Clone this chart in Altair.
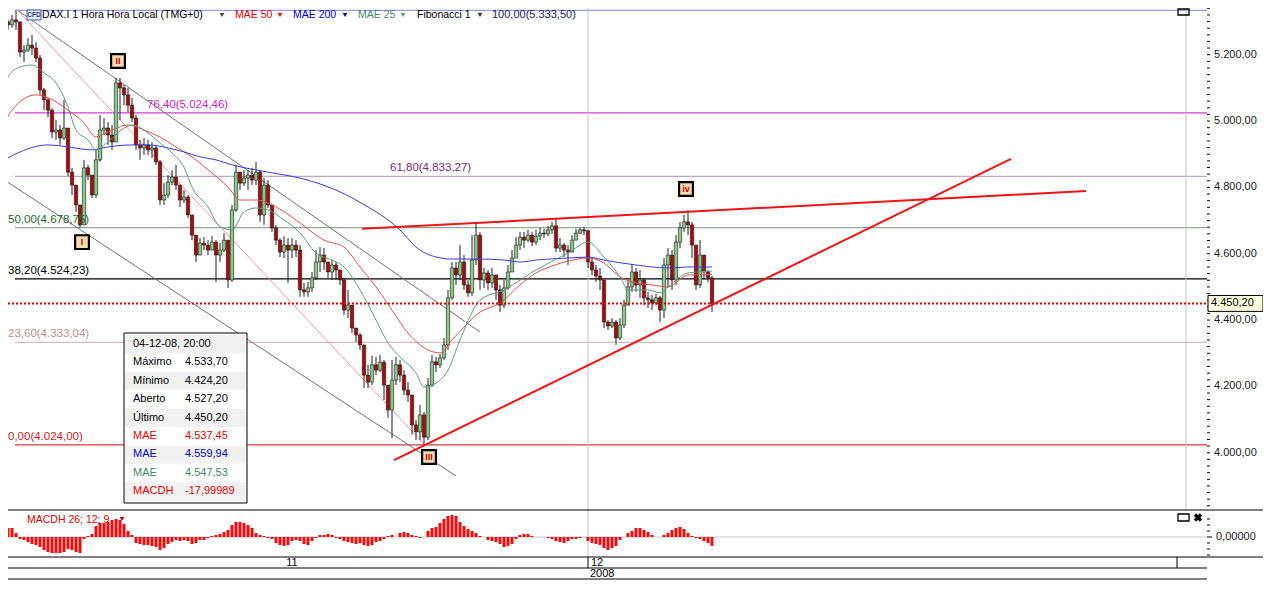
import altair as alt
import pandas as pd

# ---------------- data ----------------
FIRST_OPEN = 5124
CLOSE = [
    5259, 5299, 5290, 5305, 5299, 5208, 5214, 5229, 5220, 5190,
    5094, 5064, 5033, 4967, 4973, 4949, 4979, 4846, 4807, 4747,
    4687, 4859, 4837, 4777, 4883, 4973, 4979, 4958, 4937, 5115,
    5100, 5079, 5048, 5009, 4928, 4919, 4928, 4913, 4919, 4877,
    4762, 4777, 4816, 4831, 4807, 4762, 4771, 4717, 4656, 4596,
    4632, 4626, 4611, 4635, 4596, 4611, 4641, 4521, 4732, 4846,
    4813, 4828, 4837, 4822, 4846, 4717, 4807, 4747, 4678, 4641,
    4605, 4626, 4611, 4626, 4611, 4491, 4485, 4497, 4527, 4575,
    4596, 4575, 4545, 4566, 4551, 4521, 4430, 4445, 4376, 4355,
    4325, 4234, 4213, 4265, 4249, 4273, 4204, 4129, 4219, 4265,
    4234, 4189, 4174, 4084, 4063, 4114, 4047, 4204, 4274, 4265,
    4286, 4325, 4467, 4557, 4536, 4575, 4506, 4482, 4581, 4656,
    4521, 4542, 4512, 4536, 4491, 4445, 4497, 4545, 4587, 4626,
    4650, 4641, 4656, 4635, 4653, 4662, 4660, 4672, 4684, 4617,
    4626, 4611, 4605, 4641, 4662, 4672, 4669, 4575, 4551, 4533,
    4521, 4394, 4382, 4394, 4346, 4385, 4445, 4500, 4545, 4506,
    4521, 4467, 4461, 4452, 4467, 4430, 4566, 4596, 4521, 4635,
    4678, 4696, 4687, 4626, 4506, 4596, 4545, 4527.2, 4450.2,
]
HIGH = [
    5281, 5311, 5305, 5320, 5333.5, 5299, 5229, 5250, 5260, 5238,
    5199, 5100, 5070, 5039, 5003, 4988, 5064, 4979, 4859, 4807,
    4747, 4883, 4868, 4837, 4913, 5018, 5009, 4997, 4988, 5130,
    5130, 5109, 5100, 5070, 5018, 4943, 4949, 4943, 4937, 4928,
    4883, 4813, 4837, 4852, 4868, 4807, 4792, 4777, 4717, 4656,
    4647, 4650, 4641, 4653, 4641, 4632, 4662, 4641, 4747, 4868,
    4846, 4852, 4852, 4859, 4877, 4852, 4828, 4822, 4747, 4687,
    4647, 4653, 4647, 4647, 4641, 4626, 4512, 4515, 4545, 4611,
    4620, 4617, 4575, 4581, 4575, 4551, 4527, 4491, 4445, 4376,
    4361, 4325, 4265, 4292, 4289, 4295, 4280, 4204, 4280, 4289,
    4280, 4249, 4213, 4174, 4099, 4144, 4123, 4225, 4295, 4289,
    4298, 4346, 4491, 4575, 4575, 4626, 4596, 4521, 4656, 4696,
    4665, 4557, 4551, 4557, 4536, 4506, 4521, 4566, 4611, 4650,
    4666, 4666, 4672, 4666, 4672, 4678, 4675, 4684, 4696, 4708,
    4647, 4632, 4626, 4656, 4675, 4678, 4681, 4672, 4587, 4566,
    4557, 4521, 4400, 4406, 4400, 4406, 4461, 4521, 4569, 4557,
    4551, 4527, 4485, 4476, 4479, 4473, 4587, 4617, 4611, 4656,
    4696, 4717, 4732, 4696, 4626, 4641, 4575, 4551, 4533.7,
]
LOW = [
    5109, 5260, 5275, 5281, 5275, 5193, 5178, 5208, 5199, 5178,
    5079, 5033, 5012, 4949, 4943, 4928, 4943, 4834, 4777, 4726,
    4679, 4837, 4822, 4768, 4768, 4877, 4958, 4928, 4913, 5073,
    5003, 5048, 5027, 4997, 4913, 4883, 4898, 4898, 4889, 4868,
    4747, 4747, 4768, 4807, 4792, 4741, 4753, 4708, 4641, 4575,
    4596, 4611, 4596, 4611, 4515, 4575, 4605, 4497, 4515, 4726,
    4792, 4804, 4792, 4807, 4807, 4696, 4687, 4738, 4666, 4626,
    4590, 4587, 4512, 4587, 4590, 4470, 4470, 4470, 4485, 4521,
    4545, 4551, 4527, 4521, 4521, 4506, 4415, 4406, 4361, 4334,
    4310, 4195, 4195, 4204, 4234, 4243, 4159, 4105, 4044, 4204,
    4213, 4174, 4153, 4054, 4038, 4038, 4024, 4038, 4198, 4243,
    4256, 4280, 4310, 4461, 4506, 4521, 4491, 4470, 4473, 4566,
    4491, 4497, 4491, 4497, 4461, 4424, 4436, 4491, 4545, 4587,
    4611, 4617, 4635, 4623, 4626, 4641, 4647, 4653, 4660, 4605,
    4605, 4590, 4566, 4611, 4641, 4660, 4656, 4557, 4536, 4515,
    4491, 4376, 4370, 4376, 4325, 4340, 4376, 4445, 4485, 4485,
    4467, 4445, 4436, 4430, 4445, 4394, 4406, 4497, 4491, 4506,
    4617, 4666, 4656, 4587, 4491, 4497, 4521, 4515, 4424.2,
]
MACDH = [
    4, 14, 18, 18, 8, -4, -6, -10, -14, -16,
    -20, -26, -30, -32, -32, -32, -30, -24, -26, -30,
    -32, -4, 2, 6, 22, 28, 28, 30, 34, 36,
    34, 26, 12, 4, -12, -14, -16, -16, -18, -20,
    -26, -22, -14, -10, -6, -8, -6, -8, -14, -12,
    -6, -6, -2, 2, 4, 6, 10, 14, 24, 30,
    30, 28, 24, 18, 8, 4, 2, -2, -4, -12,
    -16, -18, -16, -8, -6, -8, -14, -16, -8, -2,
    4, 4, 6, 4, -2, -4, -8, -10, -12, -14,
    -12, -16, -18, -16, -10, -8, -4, 2, 4, 0,
    8, 10, 8, 4, 2, -2, 0, 12, 18, 20,
    28, 36, 42, 44, 42, 30, 22, 16, 12, 8,
    2, 0, -6, -8, -10, -14, -20, -18, -14, -4,
    4, 6, 6, 2, 0, 0, 0, -2, -4, -8,
    -10, -12, -8, -4, -4, -2, 0, -8, -12, -14,
    -16, -22, -26, -22, -18, -6, 0, 8, 12, 18,
    18, 14, 10, 4, 0, 0, 4, 8, 14, 18,
    20, 16, 8, 2, -2, -4, -8, -12, -18,
]

MA50_X = [0, 3, 9, 12, 17, 21, 24, 27, 32, 36, 40, 44, 48, 52, 57, 60, 64, 69, 75, 81,
          86, 90, 94, 98, 102, 107, 110, 113, 117, 120, 125, 130, 134, 138, 142, 147,
          151, 155, 159, 163, 167, 172, 178]
MA50 = [4964, 5033, 5079, 5070, 5033, 4994, 4952, 4967, 4988, 4973, 4952, 4922, 4892,
        4853, 4801, 4762, 4762, 4741, 4693, 4641, 4620, 4560, 4500, 4430, 4361, 4310,
        4301, 4340, 4391, 4424, 4451, 4506, 4542, 4563, 4578, 4587, 4572, 4530, 4512,
        4506, 4500, 4536, 4537.45]
MA200_X = [0, 5, 12, 17, 23, 27, 33, 37, 42, 46, 50, 54, 58, 67, 75, 84, 92, 96, 100,
           104, 109, 113, 120, 126, 130, 134, 142, 147, 151, 159, 167, 172, 178]
MA200 = [4874, 4907, 4928, 4922, 4913, 4922, 4928, 4928, 4919, 4907, 4892, 4883, 4868,
         4846, 4828, 4792, 4741, 4711, 4672, 4620, 4590, 4584, 4584, 4581, 4575, 4581,
         4587, 4590, 4581, 4566, 4557, 4560, 4559.94]
MA25_X = [0, 2, 5, 8, 11, 14, 17, 19, 22, 24, 27, 31, 33, 37, 40, 43, 46, 48, 52, 55,
          58, 61, 64, 67, 71, 75, 79, 83, 86, 90, 94, 97, 100, 104, 106, 109, 112, 115,
          120, 126, 134, 142, 147, 151, 155, 157, 162, 165, 167, 172, 178]
MA25 = [5073, 5133, 5163, 5169, 5145, 5115, 5042, 4973, 4943, 4913, 4937, 4979, 4988,
        4964, 4934, 4904, 4861, 4801, 4741, 4681, 4672, 4726, 4738, 4732, 4702, 4663,
        4602, 4581, 4560, 4491, 4400, 4331, 4289, 4240, 4198, 4210, 4249, 4340, 4460,
        4491, 4551, 4602, 4635, 4590, 4530, 4491, 4491, 4482, 4500, 4542, 4547.53]

FIB_TEXT = ["100,00(5.333,50)", "76,40(5.024,46)", "61,80(4.833,27)", "50,00(4.678,75)",
            "38,20(4.524,23)", "23,60(4.333,04)", "0,00(4.024,00)"]
FIB_VALUE = [5333.50, 5024.46, 4833.27, 4678.75, 4524.23, 4333.04, 4024.00]
FIB_LABEL_AT = [123, 36.75, 97.5, 2, 2, 2, 2]
FIB_LABEL_BELOW = [True, False, False, False, False, False, False]
FIB_LINE_COLOR = ["#9c9cff", "#d23cd2", "#bfa6c6", "#93a793", "#000000", "#d9bcbc", "#d43a3a"]
FIB_TEXT_COLOR = ["#20205a", "#c81ec8", "#7a2a7a", "#1f6a1f", "#000000", "#c08c8c", "#c81e1e"]
FIB_FROM = 3.75

LAST_PRICE = 4450.20
LAST_PRICE_TEXT = "4.450,20"
PRICE_TICKS = [4000, 4200, 4400, 4600, 4800, 5000, 5200]

CHANNEL_UP = ([4.25, 120], [5335, 4364])
CHANNEL_DOWN = ([0, 114], [4831, 3930])
THIN_RED = ([4.25, 106.25], [5335, 4023])
TREND_TOP = ([90.5, 271.5], [4675, 4789])
TREND_BOTTOM = ([98.5, 252.75], [3978, 4886])

WAVE_TEXT = ["I", "II", "III", "iv"]
WAVE_AT = [20.5, 29.5, 107.25, 171.5]
WAVE_PRICE = [4635, 5181, 3987, 4795]

MONTH_TEXT = ["11", "12"]
MONTH_AT = [73, 147.75]
YEAR_TEXT = ["2008"]
YEAR_AT = [147.5]
MONTH_LINE = [147]
FAR_LINE = [296.5]

INFO_LABELS = ["04-12-08, 20:00", "Máximo", "Mínimo", "Aberto", "Último",
               "MAE", "MAE", "MAE", "MACDH"]
INFO_VALUES = ["", "4.533,70", "4.424,20", "4.527,20", "4.450,20",
               "4.537,45", "4.559,94", "4.547,53", "-17,99989"]
INFO_COLORS = ["#000000", "#000000", "#000000", "#000000", "#000000",
               "#e00000", "#0000d0", "#3f8a68", "#e00000"]

LEGEND_TEXT = ["DAX.I 1 Hora Hora Local (TMG+0)", "MAE 50", "MAE 200", "MAE 25", "Fibonacci 1"]
LEGEND_COLOR = ["#000000", "#e00000", "#0000c8", "#3f8a68", "#000000"]
LEGEND_ARROW_COLOR = ["#404040", "#e00000", "#0000c8", "#5a9a7a", "#303030"]
MACD_TITLE = "MACDH 26; 12; 9"
MACD_ZERO_TEXT = "0,00000"

# ---------------- layout ----------------
W, H = 1199, 570
P_TOP, P_BOT = 5340.88, 3622.33
FONT = "Liberation Sans"
XS = alt.Scale(domain=[2, 301.75], nice=False, zero=False)
YS = alt.Scale(domain=[P_BOT, P_TOP], nice=False, zero=False)
MS = alt.Scale(domain=[-82, 1058], nice=False, zero=False)
ONE = pd.DataFrame({"d": [0]})

UP_FILL = "#86c986"
DOWN_FILL = "#a80a0a"
LABEL_EXPR = ("replace(replace(replace(format(datum.v, ',.2f'), ',', '_'), '.', ','), '_', '.')")


def X(f):
    return alt.X(f, scale=XS, axis=None)


def Y(f):
    return alt.Y(f, scale=YS, axis=None)


def seg(pts, color, width):
    df = pd.DataFrame({"i": pts[0], "v": pts[1]})
    return alt.Chart(df).mark_line(color=color, strokeWidth=width, clip=True).encode(
        x=X("i:Q"), y=Y("v:Q"))


def hline(y, x0, x1, color, width=1):
    return alt.Chart(ONE).mark_rule(color=color, strokeWidth=width).encode(
        x=alt.value(x0), x2=alt.value(x1), y=alt.value(y))


def vline(x, y0, y1, color, width=1):
    return alt.Chart(ONE).mark_rule(color=color, strokeWidth=width).encode(
        x=alt.value(x), y=alt.value(y0), y2=alt.value(y1))


def ptext(x, y, s, color="#000000", size=11, align="left", weight="normal"):
    return alt.Chart(ONE).mark_text(text=s, color=color, fontSize=size, align=align,
                                    baseline="middle", font=FONT, fontWeight=weight).encode(
        x=alt.value(x), y=alt.value(y))


# ---------------- main price panel ----------------
n = len(CLOSE)
opens = [FIRST_OPEN] + CLOSE[:-1]
cd = pd.DataFrame({"i": list(range(n)), "o": opens, "h": HIGH, "l": LOW, "c": CLOSE})
cd["h"] = cd[["h", "o", "c"]].max(axis=1)
cd["l"] = cd[["l", "o", "c"]].min(axis=1)
cd["up"] = cd["c"] >= cd["o"]

fib = pd.DataFrame({"v": FIB_VALUE, "x0": FIB_FROM, "lc": FIB_LINE_COLOR,
                    "tc": FIB_TEXT_COLOR, "t": FIB_TEXT, "at": FIB_LABEL_AT,
                    "below": FIB_LABEL_BELOW})

price_axis = alt.Axis(orient="right", values=PRICE_TICKS, labels=False, grid=True,
                      gridColor="#d3d3d3", tickSize=5, tickColor="#000000",
                      domainColor="#000000", title=None)

fib_lines = alt.Chart(fib).mark_rule(strokeWidth=1.2, clip=True).encode(
    x=X("x0:Q"), x2=alt.value(W),
    y=alt.Y("v:Q", scale=YS, axis=price_axis),
    color=alt.Color("lc:N", scale=None))

ticks_df = pd.DataFrame({"v": PRICE_TICKS})
price_labels = alt.Chart(ticks_df).transform_calculate(lab=LABEL_EXPR).mark_text(
    align="left", baseline="middle", fontSize=11, font=FONT, color="#202020").encode(
    x=alt.value(W + 7), y=Y("v:Q"), text="lab:N")

minor = pd.DataFrame({"v": list(range(3840, 5341, 20))})
minor_ticks = alt.Chart(minor).mark_rule(color="#000000").encode(
    x=alt.value(W), x2=alt.value(W + 3), y=Y("v:Q"))

month_grid = alt.Chart(pd.DataFrame({"i": MONTH_LINE})).mark_rule(color="#c4c4c4").encode(
    x=X("i:Q"), y=alt.value(0), y2=alt.value(549))
month_sep = alt.Chart(pd.DataFrame({"i": MONTH_LINE})).mark_rule(color="#000000").encode(
    x=X("i:Q"), y=alt.value(549), y2=alt.value(560))
far_grid = alt.Chart(pd.DataFrame({"i": FAR_LINE})).mark_rule(color="#c4c4c4").encode(
    x=X("i:Q"), y=alt.value(0), y2=alt.value(502))

wick = alt.Chart(cd).mark_rule(color="#1e1e1e", strokeWidth=1, clip=True).encode(
    x=X("i:Q"), y=Y("l:Q"), y2="h:Q")
body = alt.Chart(cd).transform_calculate(
    x0="datum.i - 0.42", x1="datum.i + 0.42").mark_rect(
    stroke="#1a1a1a", strokeWidth=0.6, clip=True).encode(
    x=X("x0:Q"), x2="x1:Q", y=Y("o:Q"), y2="c:Q",
    fill=alt.condition("datum.up", alt.value(UP_FILL), alt.value(DOWN_FILL)))


def ma(xs, vs, color):
    df = pd.DataFrame({"i": xs, "v": vs})
    return alt.Chart(df).mark_line(color=color, strokeWidth=1, clip=True,
                                   interpolate="monotone").encode(x=X("i:Q"), y=Y("v:Q"))


last_line = alt.Chart(pd.DataFrame({"v": [LAST_PRICE]})).mark_rule(
    color="#e00000", strokeWidth=2, strokeDash=[2, 2]).encode(
    x=alt.value(0), x2=alt.value(W), y=Y("v:Q"))

fib_labels_above = alt.Chart(fib).transform_filter("!datum.below").mark_text(
    align="left", baseline="middle", dy=-8, fontSize=11.5, font=FONT).encode(
    x=X("at:Q"), y=Y("v:Q"), text="t:N", color=alt.Color("tc:N", scale=None))
fib_labels_below = alt.Chart(fib).transform_filter("datum.below").mark_text(
    align="left", baseline="middle", dy=5, fontSize=11, font=FONT).encode(
    x=X("at:Q"), y=Y("v:Q"), text="t:N", color=alt.Color("tc:N", scale=None))

waves = pd.DataFrame({"i": WAVE_AT, "v": WAVE_PRICE, "t": WAVE_TEXT})
wave_box = alt.Chart(waves).mark_point(shape="square", size=190, filled=True,
                                       fill="#ffd9b0", stroke="#000000", strokeWidth=2.2,
                                       opacity=1).encode(x=X("i:Q"), y=Y("v:Q"))
wave_txt = alt.Chart(waves).mark_text(color="#c80000", fontSize=9, fontWeight="bold",
                                      font=FONT, baseline="middle").encode(
    x=X("i:Q"), y=Y("v:Q"), text="t:N")

tag_df = pd.DataFrame({"v": [LAST_PRICE], "t": [LAST_PRICE_TEXT]})
tag_box = alt.Chart(tag_df).transform_calculate(
    a="datum.v + 24", b="datum.v - 24").mark_rect(
    fill="#ffffe1", stroke="#000000", strokeWidth=1).encode(
    x=alt.value(W + 1), x2=alt.value(W + 56), y=Y("a:Q"), y2="b:Q")
tag_txt = alt.Chart(tag_df).mark_text(align="left", baseline="middle", fontSize=11,
                                      font=FONT, color="#000000").encode(
    x=alt.value(W + 4), y=Y("v:Q"), text="t:N")

months = alt.Chart(pd.DataFrame({"i": MONTH_AT, "t": MONTH_TEXT, "a": ["c", "l"]}))
month_c = months.transform_filter("datum.a == 'c'").mark_text(
    align="center", baseline="middle", fontSize=11, font=FONT).encode(
    x=X("i:Q"), y=alt.value(555), text="t:N")
month_l = months.transform_filter("datum.a == 'l'").mark_text(
    align="left", baseline="middle", fontSize=11, font=FONT).encode(
    x=X("i:Q"), y=alt.value(555), text="t:N")
year_t = alt.Chart(pd.DataFrame({"i": YEAR_AT, "t": YEAR_TEXT})).mark_text(
    align="left", baseline="middle", fontSize=11, font=FONT).encode(
    x=X("i:Q"), y=alt.value(566), text="t:N")

main = alt.layer(
    fib_lines, price_labels, minor_ticks, month_grid, month_sep, far_grid,
    seg(CHANNEL_UP, "#707070", 1), seg(CHANNEL_DOWN, "#707070", 1),
    seg(THIN_RED, "#f19a9a", 1),
    wick, body,
    ma(MA50_X, MA50, "#e45050"), ma(MA200_X, MA200, "#3c3cdc"), ma(MA25_X, MA25, "#5d9c7c"),
    seg(TREND_TOP, "#f01414", 2), seg(TREND_BOTTOM, "#f01414", 2),
    last_line, fib_labels_above, fib_labels_below, wave_box, wave_txt,
    tag_box, tag_txt, month_c, month_l, year_t,
)

# ---------------- MACD panel ----------------
md = pd.DataFrame({"i": list(range(n)), "m": MACDH})
macd_zero = alt.Chart(pd.DataFrame({"m": [0]})).mark_rule(color="#c8c8c8").encode(
    x=alt.value(0), x2=alt.value(W), y=alt.Y("m:Q", scale=MS, axis=None))
macd_bars = alt.Chart(md).transform_calculate(
    x0="datum.i - 0.38", x1="datum.i + 0.38", z="0").mark_rect(
    color="#ee0c0c", clip=True).encode(
    x=X("x0:Q"), x2="x1:Q", y=alt.Y("m:Q", scale=MS, axis=None), y2="z:Q")
mt = pd.DataFrame({"m": [-36, -24, -12, 12, 24, 36]})
macd_minor = alt.Chart(mt).mark_rule(color="#000000").encode(
    x=alt.value(W), x2=alt.value(W + 3), y=alt.Y("m:Q", scale=MS, axis=None))
mz = pd.DataFrame({"m": [0], "t": [MACD_ZERO_TEXT]})
macd_major = alt.Chart(mz).mark_rule(color="#000000").encode(
    x=alt.value(W), x2=alt.value(W + 5), y=alt.Y("m:Q", scale=MS, axis=None))
macd_lab = alt.Chart(mz).mark_text(align="left", baseline="middle", fontSize=11,
                                   font=FONT, color="#202020").encode(
    x=alt.value(W + 9), y=alt.Y("m:Q", scale=MS, axis=None), text="t:N")
macd_grp = alt.layer(macd_zero, macd_bars, macd_minor, macd_major, macd_lab)

# ---------------- pixel-placed furniture ----------------
info = pd.DataFrame({"k": list(range(9)), "lab": INFO_LABELS, "val": INFO_VALUES,
                     "col": INFO_COLORS})
info_bg = alt.Chart(ONE).mark_rect(fill="#ffffff").encode(
    x=alt.value(116), x2=alt.value(239), y=alt.value(325), y2=alt.value(495))
info_stripes = alt.Chart(info).transform_filter("datum.k % 2 == 0").transform_calculate(
    y0="327 + 18.4 * datum.k", y1="327 + 18.4 * (datum.k + 1)").mark_rect(
    fill="#f1f1f1").encode(x=alt.value(117), x2=alt.value(238),
                           y=alt.Y("y0:Q", scale=None), y2="y1:Q")
info_lab = alt.Chart(info).transform_calculate(ty="336 + 18.4 * datum.k").mark_text(
    align="left", baseline="middle", fontSize=11, font=FONT).encode(
    x=alt.value(125), y=alt.Y("ty:Q", scale=None), text="lab:N",
    color=alt.Color("col:N", scale=None))
info_val = alt.Chart(info).transform_calculate(ty="336 + 18.4 * datum.k").mark_text(
    align="left", baseline="middle", fontSize=11, font=FONT).encode(
    x=alt.value(177), y=alt.Y("ty:Q", scale=None), text="val:N",
    color=alt.Color("col:N", scale=None))
info_frame = alt.Chart(ONE).mark_rect(filled=False, stroke="#000000", strokeWidth=1).encode(
    x=alt.value(116), x2=alt.value(239), y=alt.value(325), y2=alt.value(495))

leg_x = [34, 227, 285, 350, 409]
arr_x = [214, 272, 337, 395, 472]
legend_layers = []
for t, c, x in zip(LEGEND_TEXT, LEGEND_COLOR, leg_x):
    legend_layers.append(ptext(x, 7, t, color=c, size=10.5))
for c, x in zip(LEGEND_ARROW_COLOR, arr_x):
    legend_layers.append(alt.Chart(ONE).mark_point(shape="triangle-down", size=22,
                                                   filled=True, color=c, opacity=1).encode(
        x=alt.value(x), y=alt.value(7)))
cfd_box = alt.Chart(ONE).mark_rect(fill="#e9edf8", stroke="#3a5aa0", strokeWidth=1).encode(
    x=alt.value(19), x2=alt.value(33), y=alt.value(2), y2=alt.value(12))
cfd_txt = ptext(26, 7, "CFD", color="#23419a", size=6.5, align="center", weight="bold")

icon_top = alt.Chart(ONE).mark_rect(filled=False, stroke="#000000", strokeWidth=1.3).encode(
    x=alt.value(1170), x2=alt.value(1181), y=alt.value(1), y2=alt.value(7))
icon_sq = alt.Chart(ONE).mark_rect(filled=False, stroke="#000000", strokeWidth=1.3).encode(
    x=alt.value(1170), x2=alt.value(1181), y=alt.value(506), y2=alt.value(513))
icon_x = alt.Chart(ONE).mark_point(shape="cross", angle=45, size=70, filled=True,
                                   color="#000000", opacity=1).encode(
    x=alt.value(1190), y=alt.value(509.5))
macd_title = ptext(19, 512, MACD_TITLE, color="#d00000", size=10.5)
macd_arrow = alt.Chart(ONE).mark_point(shape="triangle-down", size=22, filled=True,
                                       color="#d00000", opacity=1).encode(
    x=alt.value(114), y=alt.value(511))

pix = alt.layer(
    hline(502, 0, 1260, "#000000"), hline(549, 0, 1260, "#000000"),
    hline(560, 0, W, "#000000"), hline(571, 0, W, "#000000"),
    vline(1169, 549, 560, "#000000"),
    info_bg, info_stripes, info_lab, info_val, info_frame,
    cfd_box, cfd_txt, *legend_layers,
    icon_top, icon_sq, icon_x, macd_title, macd_arrow,
)

chart = alt.layer(main, macd_grp, pix).resolve_scale(
    x="independent", y="independent").properties(
    width=W, height=H,
    autosize=alt.AutoSizeParams(type="none"),
    padding={"left": 0, "top": 0, "right": 56, "bottom": 3},
    background="#ffffff",
).configure_view(stroke=None)

chart.save("out.html", embed_options={"renderer": "svg", "actions": False})
